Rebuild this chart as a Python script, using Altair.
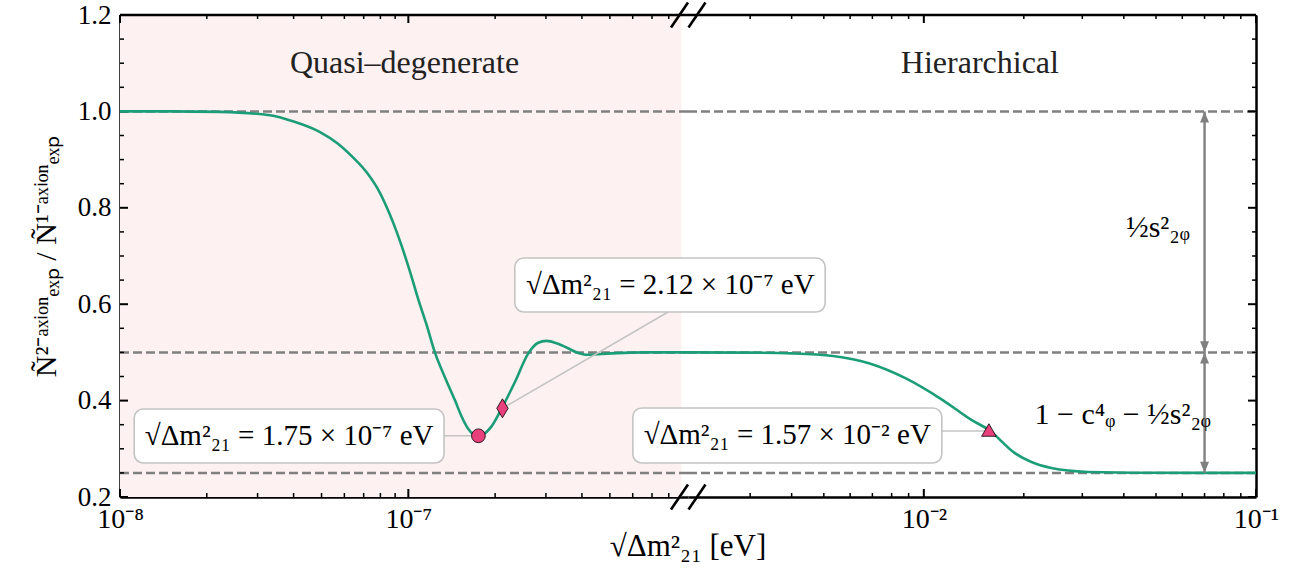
import altair as alt
import pandas as pd

# ---------------- data ----------------
left_x = [1e-8, 1.5e-8, 2.22e-8, 3.31e-8, 4.0e-8, 4.94e-8, 5.7e-8, 6.44e-8, 7.2e-8, 7.97e-8,
          8.6e-8, 9.11e-8, 1.014e-7, 1.08e-7, 1.16e-7, 1.236e-7, 1.34e-7, 1.45e-7, 1.53e-7,
          1.61e-7, 1.73e-7, 1.84e-7, 1.94e-7, 2.10e-7, 2.34e-7, 2.60e-7, 2.82e-7, 3.01e-7,
          3.40e-7, 3.88e-7, 4.20e-7, 5.05e-7, 6.78e-7, 9.33e-7]
left_y = [1.0, 1.0, 0.999, 0.992, 0.979, 0.957, 0.933, 0.904, 0.872, 0.831,
          0.788, 0.750, 0.667, 0.612, 0.555, 0.500, 0.448, 0.401, 0.367,
          0.342, 0.327, 0.332, 0.346, 0.382, 0.438, 0.497, 0.520, 0.524,
          0.515, 0.499, 0.495, 0.498, 0.5, 0.5]

right_x = [1.95e-3, 3e-3, 4e-3, 5.33e-3, 6.87e-3, 8.83e-3, 1.14e-2, 1.39e-2, 1.57e-2,
           1.88e-2, 2.1e-2, 2.42e-2, 3.12e-2, 4.73e-2, 1e-1]
right_y = [0.5, 0.4995, 0.498, 0.4925, 0.477, 0.446, 0.401, 0.36, 0.339,
           0.291, 0.273, 0.26, 0.252, 0.2502, 0.25]

ref_levels = [1.0, 0.5, 0.25]

marker_x = [1.75e-7, 2.12e-7, 1.57e-2]
marker_y = [0.327, 0.384, 0.339]
marker_labels = ["√Δm²₂₁ = 1.75 × 10⁻⁷ eV", "√Δm²₂₁ = 2.12 × 10⁻⁷ eV", "√Δm²₂₁ = 1.57 × 10⁻² eV"]

x_major_left = [1e-8, 1e-7]
x_minor_left = [2e-8, 3e-8, 4e-8, 5e-8, 6e-8, 7e-8, 8e-8, 9e-8,
                2e-7, 3e-7, 4e-7, 5e-7, 6e-7, 7e-7, 8e-7]
x_major_right = [1e-2, 1e-1]
x_minor_right = [3e-3, 4e-3, 5e-3, 6e-3, 7e-3, 8e-3, 9e-3,
                 2e-2, 3e-2, 4e-2, 5e-2, 6e-2, 7e-2, 8e-2, 9e-2]
y_major = [0.2, 0.4, 0.6, 0.8, 1.0, 1.2]
y_minor = [0.25, 0.3, 0.35, 0.45, 0.5, 0.55, 0.65, 0.7, 0.75, 0.85, 0.9, 0.95, 1.05, 1.1, 1.15]

# ---------------- style ----------------
W_L, W_R, H = 568, 568, 482
FONT = "Liberation Serif"
GREEN = "#1b9e77"
MCOL = "#e7407b"
GRAY = "#808080"
BOXC = "#c4c4c4"
PINK = "#fef1f1"
SPINE = 2.5

xs_l = alt.Scale(type="log", domain=[1e-8, 9.33e-7], nice=False)
xs_r = alt.Scale(type="log", domain=[1.95e-3, 1e-1], nice=False)
ys = alt.Scale(domain=[0.2, 1.2], nice=False, zero=False)

ax_xl = alt.Axis(values=x_major_left, ticks=False, grid=False, domain=True, domainColor="black",
                 domainWidth=SPINE, labelFont=FONT, labelFontSize=28, labelColor="black",
                 labelPadding=8, labelFlush=False, title=None,
                 labelExpr="datum.value < 5e-8 ? '10⁻⁸' : '10⁻⁷'")
ax_xr = alt.Axis(values=x_major_right, ticks=False, grid=False, domain=True, domainColor="black",
                 domainWidth=SPINE, labelFont=FONT, labelFontSize=28, labelColor="black",
                 labelPadding=8, labelFlush=False, title=None,
                 labelExpr="datum.value < 5e-2 ? '10⁻²' : '10⁻¹'")
ax_yl = alt.Axis(values=y_major, format=".1f", ticks=False, grid=False, domain=True,
                 domainColor="black", domainWidth=SPINE, labelFont=FONT, labelFontSize=27,
                 labelColor="black", labelPadding=9, labelFlush=False,
                 title="Ñ²⁻ᵃˣⁱᵒⁿₑₓₚ / Ñ¹⁻ᵃˣⁱᵒⁿₑₓₚ", titleFont=FONT, titleFontSize=30,
                 titleFontWeight="normal", titleColor="black", titlePadding=16)
ax_yr = alt.Axis(orient="right", ticks=False, grid=False, labels=False, domain=True,
                 domainColor="black", domainWidth=SPINE, title=None)


def XL(f):
    return alt.X(f, type="quantitative", scale=xs_l, axis=ax_xl)


def XR(f):
    return alt.X(f, type="quantitative", scale=xs_r, axis=ax_xr)


def YL(f):
    return alt.Y(f, type="quantitative", scale=ys, axis=ax_yl)


def YR(f):
    return alt.Y(f, type="quantitative", scale=ys, axis=ax_yr)


df_left = pd.DataFrame({"x": left_x, "y": left_y})
df_right = pd.DataFrame({"x": right_x, "y": right_y})
df_lev = pd.DataFrame({"y": ref_levels})
df_ymaj = pd.DataFrame({"v": y_major})
df_ymin = pd.DataFrame({"v": y_minor})


def panel(X, Y, W, xmaj, xmin, left_side):
    layers = []
    layers.append(alt.Chart(df_lev).mark_rule(color=GRAY, strokeWidth=2.5, strokeDash=[9, 4])
                  .encode(y=Y("y")))
    dmaj = pd.DataFrame({"v": xmaj})
    dmin = pd.DataFrame({"v": xmin})
    for d, L, sw in [(dmaj, 8, 2.0), (dmin, 4, 1.5)]:
        layers.append(alt.Chart(d).mark_rule(color="black", strokeWidth=sw)
                      .encode(x=X("v"), y=alt.value(H), y2=alt.value(H - L)))
        layers.append(alt.Chart(d).mark_rule(color="black", strokeWidth=sw)
                      .encode(x=X("v"), y=alt.value(0), y2=alt.value(L)))
    for d, L, sw in [(df_ymaj, 8, 2.0), (df_ymin, 4, 1.5)]:
        if left_side:
            layers.append(alt.Chart(d).mark_rule(color="black", strokeWidth=sw)
                          .encode(y=Y("v"), x=alt.value(0), x2=alt.value(L)))
        else:
            layers.append(alt.Chart(d).mark_rule(color="black", strokeWidth=sw)
                          .encode(y=Y("v"), x=alt.value(W), x2=alt.value(W - L)))
    layers.append(alt.Chart(df_lev.head(1)).mark_rule(color="black", strokeWidth=SPINE)
                  .encode(x=alt.value(0), x2=alt.value(W), y=alt.value(0)))
    return layers


# ---------------- left panel ----------------
L = []
L.append(alt.Chart(pd.DataFrame({"x": [1e-8], "x2": [8.85e-7]})).mark_rect(color=PINK)
         .encode(x=XL("x"), x2="x2", y=alt.value(0), y2=alt.value(H)))
L += panel(XL, YL, W_L, x_major_left, x_minor_left, True)
L.append(alt.Chart(df_left).mark_line(color=GREEN, strokeWidth=2.6, interpolate="monotone")
         .encode(x=XL("x"), y=YL("y")))
con_l = pd.DataFrame({"x": [1.33e-7, marker_x[1]], "x2": [marker_x[0], 7.96e-7],
                      "y": [marker_y[0], marker_y[1]], "y2": [marker_y[0], 0.5838]})
L.append(alt.Chart(con_l).mark_rule(color=BOXC, strokeWidth=1.6)
         .encode(x=XL("x"), x2="x2", y=YL("y"), y2="y2"))
box_l = pd.DataFrame({"x": [1.12e-8, 2.34e-7], "x2": [1.33e-7, 2.79e-6],
                      "y": [0.3826, 0.6959], "y2": [0.2705, 0.5838],
                      "tx": [3.86e-8, 8.1e-7], "ty": [0.3266, 0.64],
                      "label": marker_labels[:2]})
L.append(alt.Chart(box_l).mark_rect(fill="white", stroke=BOXC, strokeWidth=1.6, cornerRadius=9)
         .encode(x=XL("x"), x2="x2", y=YL("y"), y2="y2"))
L.append(alt.Chart(box_l).mark_text(font=FONT, fontSize=29, color="black")
         .encode(x=XL("tx"), y=YL("ty"), text="label"))
L.append(alt.Chart(pd.DataFrame({"x": [marker_x[0]], "y": [marker_y[0]]}))
         .mark_point(shape="circle", filled=True, size=190, color=MCOL, stroke="black",
                     strokeWidth=0.8, opacity=1)
         .encode(x=XL("x"), y=YL("y")))
L.append(alt.Chart(pd.DataFrame({"x": [marker_x[1]], "y": [marker_y[1]]}))
         .mark_point(shape="M0,-1L0.6,0L0,1L-0.6,0Z", filled=True, size=360, color=MCOL,
                     stroke="black", strokeWidth=0.8, opacity=1)
         .encode(x=XL("x"), y=YL("y")))
L.append(alt.Chart(pd.DataFrame({"x": [9.7e-8], "y": [1.1], "t": ["Quasi–degenerate"]}))
         .mark_text(font=FONT, fontSize=32, color="#222222")
         .encode(x=XL("x"), y=YL("y"), text="t"))
left = alt.layer(*L).properties(width=W_L, height=H)

# ---------------- right panel ----------------
R = []
R += panel(XR, YR, W_R, x_major_right, x_minor_right, False)
R.append(alt.Chart(df_right).mark_line(color=GREEN, strokeWidth=2.6, interpolate="monotone")
         .encode(x=XR("x"), y=YR("y")))
R.append(alt.Chart(pd.DataFrame({"x": [1.133e-2], "x2": [marker_x[2]], "y": [0.337]}))
         .mark_rule(color=BOXC, strokeWidth=1.6)
         .encode(x=XR("x"), x2="x2", y=YR("y")))
box_r = pd.DataFrame({"x": [1.33e-3], "x2": [1.133e-2], "y": [0.3846], "y2": [0.2705],
                      "tx": [3.88e-3], "ty": [0.328], "label": [marker_labels[2]]})
R.append(alt.Chart(box_r).mark_rect(fill="white", stroke=BOXC, strokeWidth=1.6, cornerRadius=9)
         .encode(x=XR("x"), x2="x2", y=YR("y"), y2="y2"))
R.append(alt.Chart(box_r).mark_text(font=FONT, fontSize=29, color="black")
         .encode(x=XR("tx"), y=YR("ty"), text="label"))
R.append(alt.Chart(pd.DataFrame({"x": [marker_x[2]], "y": [marker_y[2]]}))
         .mark_point(shape="triangle-up", filled=True, size=210, color=MCOL, stroke="black",
                     strokeWidth=0.8, opacity=1)
         .encode(x=XR("x"), y=YR("y")))
R.append(alt.Chart(pd.DataFrame({"x": [1.475e-2], "y": [1.1], "t": ["Hierarchical"]}))
         .mark_text(font=FONT, fontSize=32, color="#222222")
         .encode(x=XR("x"), y=YR("y"), text="t"))
arrow_x = 0.07
R.append(alt.Chart(pd.DataFrame({"x": [arrow_x], "y": [0.25], "y2": [1.0]}))
         .mark_rule(color=GRAY, strokeWidth=2.4)
         .encode(x=XR("x"), y=YR("y"), y2="y2"))
heads = pd.DataFrame({"x": [arrow_x] * 4, "y": [1.0, 0.5, 0.5, 0.25],
                      "dir": ["up", "down", "up", "down"]})
R.append(alt.Chart(heads[heads.dir == "up"]).mark_point(
    shape="M0,0L0.4,1L-0.4,1Z", filled=True, size=500, color=GRAY, opacity=1)
    .encode(x=XR("x"), y=YR("y")))
R.append(alt.Chart(heads[heads.dir == "down"]).mark_point(
    shape="M0,0L0.4,-1L-0.4,-1Z", filled=True, size=500, color=GRAY, opacity=1)
    .encode(x=XR("x"), y=YR("y")))
R.append(alt.Chart(pd.DataFrame({"x": [0.0507], "y": [0.758], "t": ["½s²₂ᵩ"]}))
         .mark_text(font=FONT, fontSize=30, color="black")
         .encode(x=XR("x"), y=YR("y"), text="t"))
R.append(alt.Chart(pd.DataFrame({"x": [0.0397], "y": [0.37], "t": ["1 − c⁴ᵩ − ½s²₂ᵩ"]}))
         .mark_text(font=FONT, fontSize=30, color="black")
         .encode(x=XR("x"), y=YR("y"), text="t"))
for cx in [-8.5, 9]:
    for cy in [0, H]:
        R.append(alt.Chart(df_lev.head(1)).mark_rule(color="black", strokeWidth=2.6)
                 .encode(x=alt.value(cx - 8.5), x2=alt.value(cx + 8.5),
                         y=alt.value(cy + 12.5), y2=alt.value(cy - 12.5)))
R.append(alt.Chart(pd.DataFrame({"t": ["√Δm²₂₁ [eV]"]})).mark_text(font=FONT, fontSize=31,
                                                                  color="black")
         .encode(x=alt.value(0), y=alt.value(H + 50), text="t"))
right = alt.layer(*R).properties(width=W_R, height=H)

chart = alt.hconcat(left, right, spacing=0, bounds="flush").configure(
    padding={"left": 31, "top": 1, "right": 5, "bottom": 5}, background="white",
    view=alt.ViewConfig(strokeWidth=0, stroke="transparent"))

chart.save("out.html", embed_options={"renderer": "svg", "actions": False})
